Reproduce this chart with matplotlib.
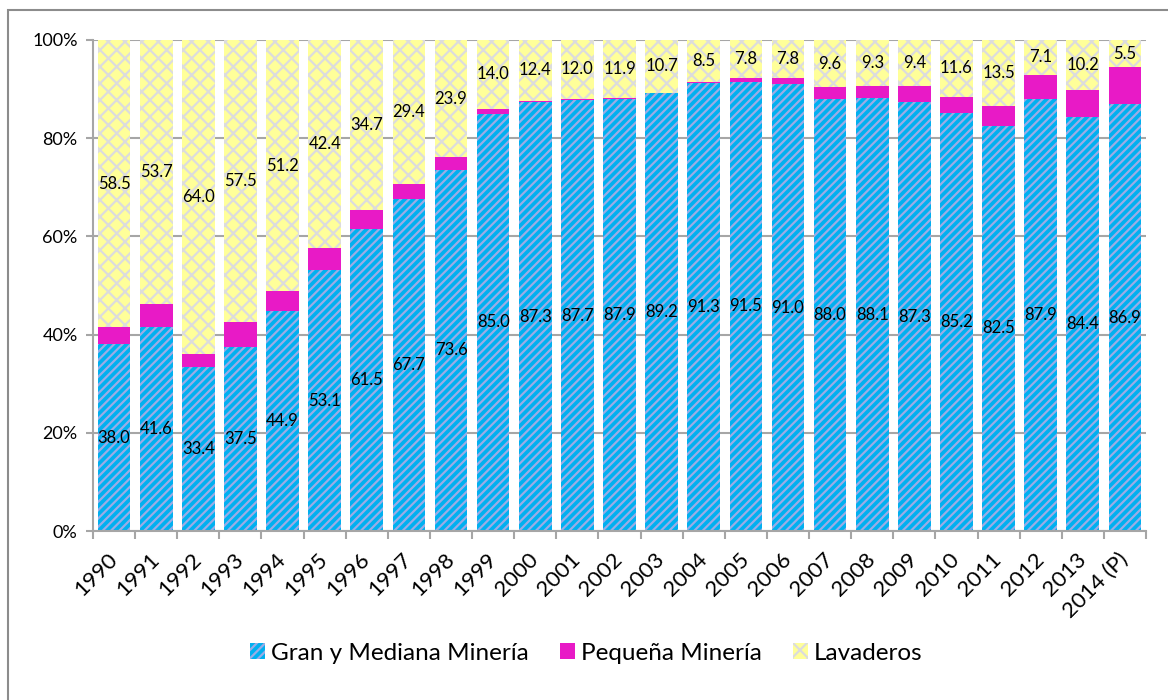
import numpy as np
import matplotlib.pyplot as plt
from matplotlib.patches import Rectangle

plt.rcParams['font.family'] = ['Lato', 'DejaVu Sans']

years = ['1990', '1991', '1992', '1993', '1994', '1995', '1996', '1997', '1998', '1999',
         '2000', '2001', '2002', '2003', '2004', '2005', '2006', '2007', '2008', '2009',
         '2010', '2011', '2012', '2013', '2014 (P)']
gran = [38.0, 41.6, 33.4, 37.5, 44.9, 53.1, 61.5, 67.7, 73.6, 85.0,
        87.3, 87.7, 87.9, 89.2, 91.3, 91.5, 91.0, 88.0, 88.1, 87.3,
        85.2, 82.5, 87.9, 84.4, 86.9]
pequena = [3.5, 4.7, 2.6, 5.0, 3.9, 4.5, 3.8, 2.9, 2.5, 1.0,
           0.3, 0.3, 0.2, 0.1, 0.2, 0.7, 1.2, 2.4, 2.6, 3.3,
           3.2, 4.0, 5.0, 5.4, 7.6]
lavaderos = [58.5, 53.7, 64.0, 57.5, 51.2, 42.4, 34.7, 29.4, 23.9, 14.0,
             12.4, 12.0, 11.9, 10.7, 8.5, 7.8, 7.8, 9.6, 9.3, 9.4,
             11.6, 13.5, 7.1, 10.2, 5.5]

fig = plt.figure(figsize=(11.68, 7), dpi=100)
ax = fig.add_axes([93/1168, 1-531/700, (1146-93)/1168, 491/700])

x = np.arange(len(years))
g = np.array(gran)
p = np.array(pequena)
l = np.array(lavaderos)
w = 0.775

plt.rcParams['hatch.linewidth'] = 1.6
ax.bar(x, g, w, color='#00B0F0', edgecolor='#9AACE6', hatch='////', linewidth=0,
       label='Gran y Mediana Minería', zorder=2)
ax.bar(x, p, w, bottom=g, color='#E81AC6', linewidth=0,
       label='Pequeña Minería', zorder=2)
ax.bar(x, l, w, bottom=g+p, color='#FFFF99', edgecolor='#DCDCDC', hatch='xx', linewidth=0,
       label='Lavaderos', zorder=2)

# data labels at the middle of each segment
for i in range(len(years)):
    ax.text(x[i], g[i]/2, '%.1f' % gran[i], ha='center', va='center', fontsize=12, zorder=3)
    ax.text(x[i], g[i]+p[i]+l[i]/2, '%.1f' % lavaderos[i], ha='center', va='center', fontsize=12, zorder=3)

ax.set_xlim(-0.5, len(years)-0.5)
ax.set_ylim(0, 100)
ax.set_yticks([0, 20, 40, 60, 80, 100])
ax.set_yticklabels(['0%', '20%', '40%', '60%', '80%', '100%'], fontsize=13)
ax.grid(axis='y', color='#A6A6A6', linewidth=1.5, zorder=0)
ax.set_axisbelow(True)

ax.set_xticks(x)
ax.set_xticklabels(years, rotation=45, ha='right', va='center', rotation_mode='anchor', fontsize=16)
ax.tick_params(axis='x', which='major', length=0, pad=18)
ax.set_xticks(np.arange(-0.5, len(years), 1), minor=True)
ax.tick_params(axis='x', which='minor', length=5.5, width=1.5, color='#A6A6A6', direction='out')
ax.tick_params(axis='y', length=5, width=1.5, color='#A6A6A6', pad=6)

for s in ['top', 'right']:
    ax.spines[s].set_visible(False)
for s in ['left', 'bottom']:
    ax.spines[s].set_color('#A6A6A6')
    ax.spines[s].set_linewidth(1.5)

fig.legend(loc='center', bbox_to_anchor=(0.502, 1-653/700), ncol=3, frameon=False,
           fontsize=17.5, handlelength=0.6, handleheight=0.6, handletextpad=0.25, columnspacing=1.3)

fig.patches.append(Rectangle((8/1168, -0.1), 2, 1-10/700+0.1, transform=fig.transFigure,
                             fill=False, edgecolor='#8C8C8C', linewidth=1.5))

fig.savefig('out.png', dpi=100)
